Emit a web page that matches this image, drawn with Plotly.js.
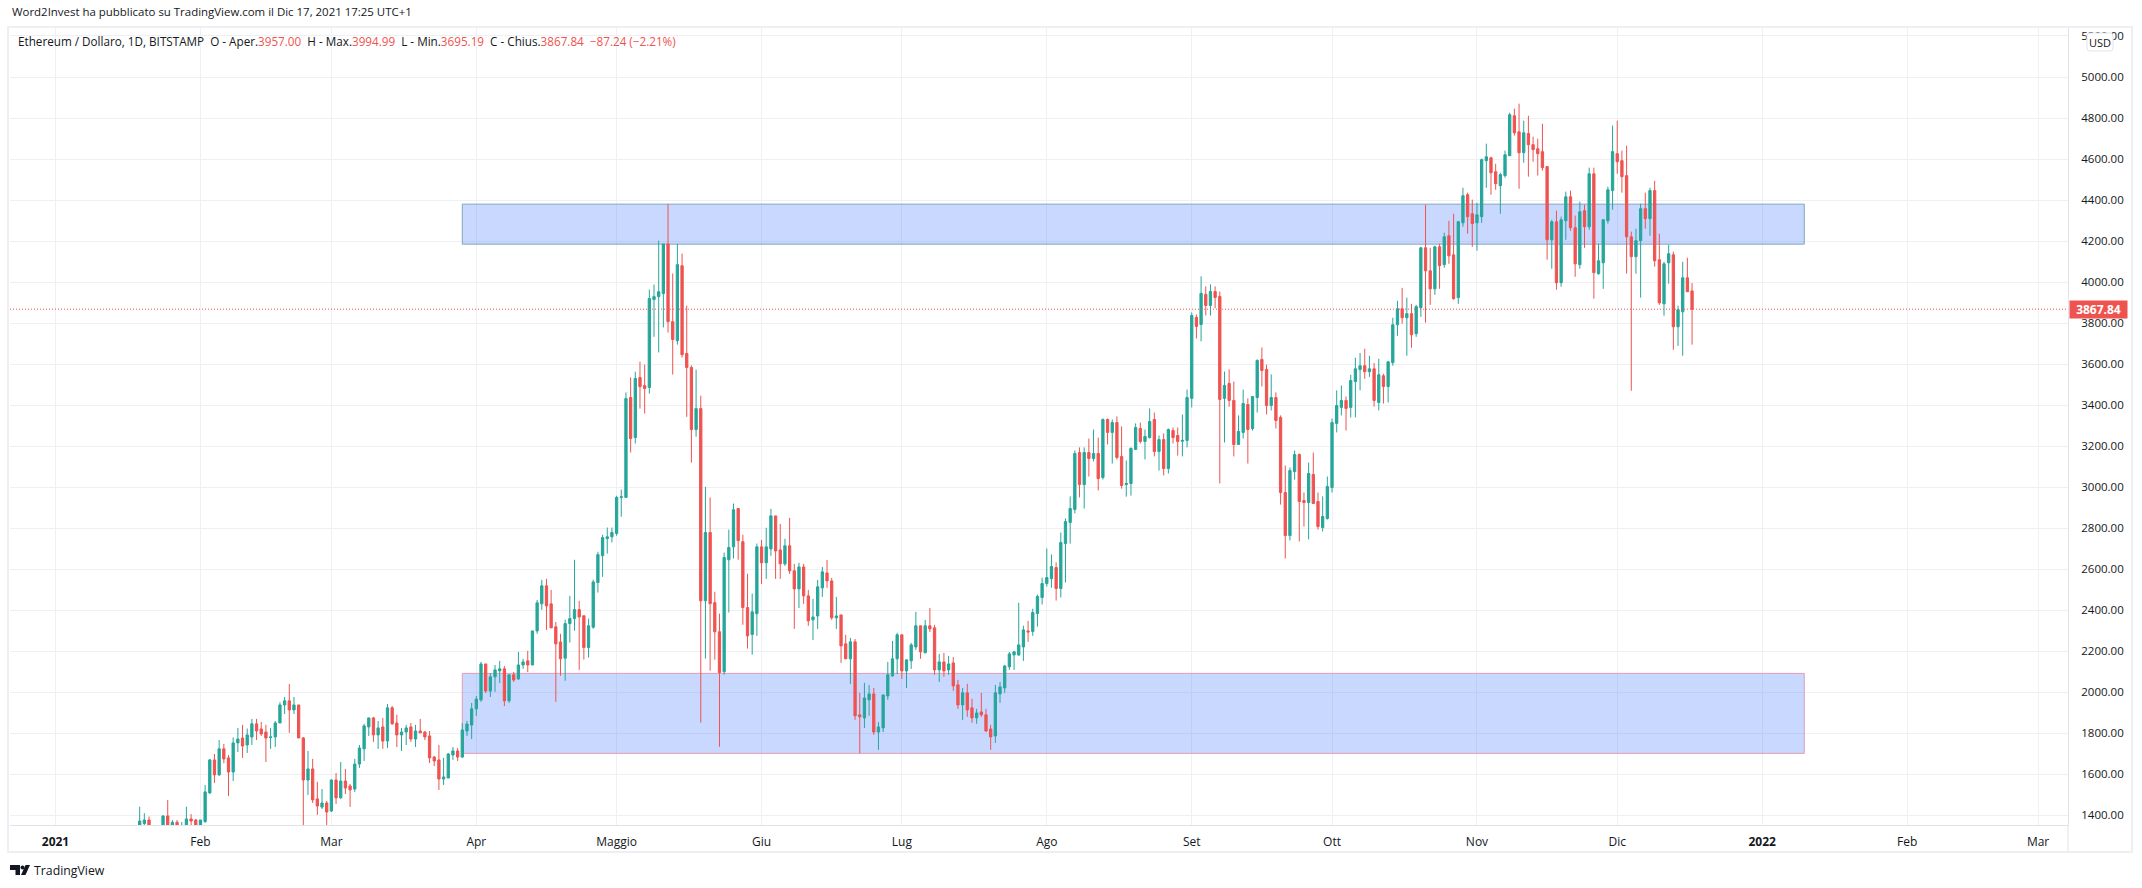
<!DOCTYPE html>
<html><head><meta charset="utf-8">
<script src="https://cdn.plot.ly/plotly-3.0.1.min.js"></script>
<style>html,body{margin:0;padding:0;background:#fff}#c{width:2142px;height:888px}</style>
</head><body><div id="c"></div>
<script>
const firstDay = "2021-01-19";
const opens = [
1257,1360,1377,1120,1230,1235,1397,1325,1366,1250,
1330,1382,1377,1330,1369,1509,1670,1597,1724,1680,
1611,1753,1777,1743,1782,1846,1821,1806,1779,1782,
1850,1938,1958,1914,1938,1777,1572,1626,1480,1440,
1460,1421,1572,1485,1567,1543,1528,1650,1724,1831,
1875,1792,1831,1762,1924,1850,1792,1806,1831,1772,
1811,1806,1787,1684,1670,1577,1582,1694,1714,1684,
1811,1840,1919,1963,2138,2006,2075,2104,2114,1958,
2085,2065,2133,2153,2133,2299,2431,2519,2431,2319,
2245,2166,2335,2359,2403,2373,2218,2317,2535,2666,
2749,2758,2774,2950,2950,3437,3242,3535,3495,3486,
3915,3929,3944,4186,3807,3714,4080,3652,3584,3281,
3383,2446,2779,2437,2295,2100,2646,2709,2896,2734,
2413,2281,2383,2709,2631,2699,2860,2694,2626,2714,
2592,2504,2611,2470,2353,2372,2509,2582,2543,2363,
2377,2236,2163,2246,1890,1875,1963,1992,1806,1826,
1982,2080,2163,2280,2104,2153,2221,2324,2192,2324,
2314,2109,2148,2109,2143,2036,1938,1997,1924,1875,
1904,1890,1821,1787,1992,2021,2124,2182,2182,2221,
2299,2296,2384,2462,2530,2554,2608,2506,2725,2828,
2891,3169,3013,3169,3140,3164,3047,3330,3267,3315,
3150,3013,3018,3184,3286,3223,3242,3330,3174,3232,
3091,3276,3252,3224,3228,3433,3828,3793,3940,3886,
3954,3930,3433,3506,3423,3208,3267,3403,3286,3437,
3623,3574,3398,3437,3340,2974,2764,3076,3159,2935,
2925,3062,2930,2803,2847,2998,3311,3389,3423,3389,
3515,3574,3592,3563,3577,3413,3543,3491,3607,3792,
3870,3826,3846,3748,3875,4167,4055,3967,4172,4085,
4226,4133,3924,4289,4426,4333,4289,4319,4592,4606,
4538,4470,4519,4616,4811,4733,4631,4724,4670,4650,
4636,4563,4206,4294,3997,4299,4416,4265,4085,4348,
4270,4528,4041,4094,4299,4446,4626,4592,4519,4221,
4124,4202,4358,4309,4446,4109,3894,4094,4133,3782,
3855,4021,3957];
const highs = [
1442,1410,1394,1340,1300,1400,1475,1377,1377,1367,
1442,1406,1382,1377,1548,1675,1699,1767,1748,1694,
1780,1826,1841,1823,1870,1870,1855,1841,1826,1860,
1951,1977,2040,1977,1938,1782,1714,1675,1563,1528,
1470,1575,1606,1660,1626,1553,1675,1743,1846,1875,
1880,1860,1875,1943,1933,1890,1826,1841,1850,1841,
1870,1811,1811,1690,1743,1680,1704,1733,1728,1849,
1860,1948,1982,2148,2138,2093,2133,2153,2128,2085,
2099,2197,2163,2202,2299,2450,2548,2553,2499,2343,
2285,2354,2470,2646,2446,2373,2359,2549,2685,2768,
2803,2803,2958,2988,3462,3535,3563,3612,3598,3963,
3988,4202,4186,4381,4042,4186,4139,3885,3594,3573,
3446,3002,2950,2490,2383,2681,2793,2920,2896,2768,
2578,2481,2725,2743,2802,2894,2860,2821,2748,2850,
2626,2631,2626,2499,2455,2548,2611,2645,2558,2465,
2377,2280,2265,2260,1997,2046,2036,2021,1855,1987,
2148,2250,2290,2280,2158,2241,2392,2324,2353,2411,
2329,2187,2192,2177,2172,2060,2021,2041,1968,1919,
1997,1919,1841,2036,2050,2133,2197,2202,2436,2324,
2348,2407,2476,2559,2701,2672,2633,2779,2847,2955,
3179,3194,3194,3237,3281,3242,3335,3335,3330,3345,
3296,3130,3194,3311,3315,3281,3384,3364,3252,3262,
3286,3291,3291,3354,3476,3852,3842,4028,3979,3989,
3979,3954,3564,3574,3515,3350,3476,3433,3442,3623,
3681,3598,3550,3462,3350,3106,3096,3179,3164,2974,
3120,3169,2974,2955,3052,3335,3472,3496,3442,3548,
3631,3654,3675,3641,3605,3626,3553,3616,3826,3909,
3972,3924,3894,3889,4172,4377,4167,4177,4187,4241,
4299,4333,4299,4460,4436,4402,4387,4602,4675,4611,
4577,4533,4641,4826,4846,4870,4787,4811,4709,4699,
4772,4563,4304,4348,4319,4441,4446,4324,4392,4377,
4558,4558,4187,4304,4465,4763,4787,4641,4665,4246,
4260,4382,4436,4460,4494,4236,4099,4182,4148,3885,
4099,4119,3994.99];
const lows = [
1220,1280,1060,1080,1170,1230,1300,1270,1240,1230,
1310,1340,1300,1310,1364,1505,1558,1593,1654,1494,
1567,1709,1680,1704,1743,1767,1787,1660,1724,1733,
1850,1894,1802,1894,1777,1300,1499,1460,1402,1431,
1345,1416,1455,1480,1504,1441,1514,1631,1665,1787,
1758,1724,1724,1728,1841,1733,1714,1743,1758,1733,
1802,1767,1655,1640,1523,1548,1582,1670,1665,1680,
1787,1772,1885,1953,1997,1977,2002,2045,1933,1948,
2050,2060,2114,2099,2133,2285,2402,2304,2314,1953,
2080,2056,2242,2300,2109,2159,2169,2310,2486,2563,
2676,2730,2763,2856,2950,3169,3213,3383,3359,3456,
3733,3657,3779,3754,3549,3695,3632,3343,3120,3246,
1852,2164,2105,2159,1734,2086,2389,2652,2646,2329,
2213,2183,2275,2528,2553,2665,2553,2553,2616,2577,
2309,2411,2431,2324,2255,2309,2465,2509,2353,2309,
2143,2163,2041,1865,1702,1826,1885,1792,1719,1806,
1963,2075,2089,2065,2021,2114,2207,2163,2192,2294,
2085,2050,2075,2085,2007,1919,1865,1880,1851,1846,
1880,1806,1719,1753,1948,1997,2109,2109,2177,2153,
2246,2275,2320,2428,2515,2510,2447,2462,2535,2725,
2872,2950,2896,3052,3125,2984,3037,3208,3115,3135,
2993,2954,2959,3184,3213,3135,3237,3150,3081,3057,
3067,3213,3154,3150,3194,3389,3725,3711,3837,3837,
3872,3018,3218,3393,3150,3208,3237,3115,3276,3364,
3491,3355,3374,3286,2915,2652,2740,3037,2735,2808,
2745,2920,2793,2784,2842,2974,3267,3350,3276,3340,
3340,3472,3528,3538,3393,3374,3408,3413,3592,3738,
3797,3641,3680,3733,3831,3802,3889,3938,3967,4070,
4089,3914,3894,4270,4236,4172,4153,4289,4460,4426,
4450,4333,4509,4616,4714,4455,4582,4514,4587,4519,
4543,4109,4065,3963,3977,4206,4250,4026,4065,4167,
4255,3919,4036,3967,4285,4353,4528,4436,4041,3470,
4041,3924,4260,4226,4075,3889,3836,3992,3670,3689,
3641,3953,3695.19];
const closes = [
1372,1377,1110,1230,1235,1397,1325,1366,1250,1330,
1382,1372,1330,1377,1514,1670,1597,1724,1675,1611,
1753,1772,1738,1792,1846,1811,1797,1777,1782,1850,
1938,1958,1914,1938,1777,1572,1626,1475,1445,1460,
1416,1572,1485,1567,1533,1524,1650,1728,1836,1875,
1792,1826,1762,1924,1846,1792,1806,1826,1772,1811,
1802,1782,1680,1665,1577,1587,1699,1714,1684,1816,
1845,1919,1967,2138,2006,2075,2109,2114,1958,2085,
2060,2133,2148,2133,2299,2436,2519,2421,2314,2236,
2163,2335,2359,2403,2367,2218,2324,2538,2671,2754,
2758,2779,2950,2953,3432,3237,3530,3490,3481,3920,
3929,3953,4186,3807,3720,4085,3646,3584,3281,3383,
2446,2779,2432,2295,2096,2657,2706,2890,2739,2413,
2275,2392,2709,2631,2709,2860,2689,2626,2714,2592,
2504,2611,2470,2348,2367,2514,2587,2543,2363,2372,
2226,2163,2246,1885,1880,1972,1992,1806,1831,1987,
2085,2163,2280,2104,2158,2231,2324,2197,2324,2309,
2109,2148,2104,2138,2031,1938,1997,1914,1875,1899,
1890,1811,1782,1997,2026,2128,2187,2197,2231,2304,
2294,2389,2467,2530,2559,2613,2506,2730,2832,2896,
3164,3013,3169,3140,3164,3042,3330,3267,3315,3145,
3008,3018,3189,3291,3223,3247,3320,3174,3232,3091,
3281,3242,3223,3228,3437,3837,3784,3945,3886,3954,
3925,3428,3496,3423,3208,3272,3408,3281,3442,3618,
3569,3398,3437,3325,2974,2764,3081,3159,2930,2925,
3067,2920,2808,2857,3003,3315,3398,3423,3384,3520,
3577,3592,3563,3577,3423,3548,3491,3611,3792,3870,
3826,3846,3743,3880,4167,4055,3967,4172,4080,4221,
4128,3919,4294,4421,4319,4285,4328,4597,4611,4533,
4480,4524,4621,4816,4728,4631,4728,4670,4646,4626,
4558,4206,4294,3997,4304,4416,4265,4089,4343,4270,
4528,4046,4104,4304,4450,4636,4587,4514,4221,4124,
4202,4358,4309,4446,4104,3899,4089,4138,3782,3865,
4021,3953,3867.84];

const monthTicks = ["2021-01-01","2021-02-01","2021-03-01","2021-04-01","2021-05-01","2021-06-01","2021-07-01","2021-08-01","2021-09-01","2021-10-01","2021-11-01","2021-12-01","2022-01-01","2022-02-01","2022-03-01"];
const monthLabels = ["<b>2021</b>","Feb","Mar","Apr","Maggio","Giu","Lug","Ago","Set","Ott","Nov","Dic","<b>2022</b>","Feb","Mar"];
const priceTicks = [1400,1600,1800,2000,2200,2400,2600,2800,3000,3200,3400,3600,3800,4000,4200,4400,4600,4800,5000,5200];
const zoneTop = {x0:"2021-03-29", x1:"2022-01-10", y0:4185, y1:4380};
const zoneBottom = {x0:"2021-03-29", x1:"2022-01-10", y0:1702, y1:2092};
const lastPrice = 3867.84;
const publishedText = "Word2Invest ha pubblicato su TradingView.com il Dic 17, 2021 17:25 UTC+1";
const symbolText = "Ethereum / Dollaro, 1D, BITSTAMP";

const GREEN="#26a69a", RED="#ef5350", INK="#131722", GRID="#eff0f3", FRAME="#eeeff4", AXIS="#e0e3eb";
const W=2142,H=888,L=10,R=74,T=27,B=63;
const px=x=>(x-L)/(W-L-R), py=y=>1-(y-T)/(H-T-B);
const base=Date.parse(firstDay+"T00:00:00Z");
const dates=closes.map((_,i)=>new Date(base+i*864e5).toISOString().slice(0,10));
const FONT='"Open Sans","Liberation Sans",sans-serif';

const val=s=>`<span style="color:${RED}">${s}</span>`;
const legendText=`${symbolText}  O - Aper.${val("3957.00")}  H - Max.${val("3994.99")}  L - Min.${val("3695.19")}  C - Chius.${val("3867.84")}  ${val("−87.24 (−2.21%)")}`;

const pathPx=pts=>"M"+pts.map(p=>px(p[0])+","+py(p[1])).join("L")+"Z";
const roundedPx=(x0,y0,x1,y1,r)=>`M${px(x0+r)},${py(y0)}L${px(x1-r)},${py(y0)}Q${px(x1)},${py(y0)} ${px(x1)},${py(y0+r)}L${px(x1)},${py(y1-r)}Q${px(x1)},${py(y1)} ${px(x1-r)},${py(y1)}L${px(x0+r)},${py(y1)}Q${px(x0)},${py(y1)} ${px(x0)},${py(y1-r)}L${px(x0)},${py(y0+r)}Q${px(x0)},${py(y0)} ${px(x0+r)},${py(y0)}Z`;
const paperRect=(x0,y0,x1,y1,extra)=>Object.assign({type:"rect",xref:"paper",yref:"paper",x0:px(x0),x1:px(x1),y0:py(y0),y1:py(y1)},extra);

const trace={type:"candlestick",x:dates,open:opens,high:highs,low:lows,close:closes,
 increasing:{line:{color:GREEN,width:1},fillcolor:GREEN},
 decreasing:{line:{color:RED,width:1},fillcolor:RED},
 whiskerwidth:0,width:864e5*0.45,hoverinfo:"skip",showlegend:false};

const layout={width:W,height:H,margin:{l:L,r:R,t:T,b:B,pad:0},paper_bgcolor:"#fff",plot_bgcolor:"#fff",
 font:{family:FONT,size:12,color:INK},showlegend:false,dragmode:false,
 xaxis:{type:"date",range:["2020-12-22 06:29","2022-03-07 09:36"],rangeslider:{visible:false},
  tickmode:"array",tickvals:monthTicks,ticktext:monthLabels,showgrid:true,gridcolor:GRID,gridwidth:1,
  showline:true,linecolor:AXIS,linewidth:1,ticks:"outside",ticklen:6,tickcolor:"#fff",zeroline:false,
  tickfont:{family:FONT,size:12,color:INK}},
 yaxis:{side:"right",range:[1352.7,5243.8],tickmode:"array",tickvals:priceTicks,tickformat:".2f",
  showgrid:true,gridcolor:GRID,gridwidth:1,showline:true,linecolor:AXIS,linewidth:1,ticks:"outside",ticklen:10,tickcolor:"#fff",
  zeroline:false,tickfont:{family:FONT,size:11.5,color:INK}},
 shapes:[
  Object.assign({type:"rect",layer:"between",fillcolor:"rgba(41,98,255,0.25)",line:{color:"#7ea6bf",width:1}},{xref:"x",yref:"y"},zoneTop),
  Object.assign({type:"rect",layer:"between",fillcolor:"rgba(41,98,255,0.25)",line:{color:"#e49bb2",width:1}},{xref:"x",yref:"y"},zoneBottom),
  {type:"line",xref:"paper",yref:"y",x0:0,x1:1,y0:lastPrice,y1:lastPrice,line:{color:RED,width:1,dash:"1px,2px"}},
  paperRect(8,27,2132,852,{line:{color:FRAME,width:2},fillcolor:"rgba(0,0,0,0)"}),
  {type:"line",xref:"paper",yref:"paper",x0:1,x1:1,y0:py(825),y1:py(852),line:{color:AXIS,width:1}},
  {type:"path",xref:"paper",yref:"paper",path:roundedPx(2087,33,2113,51,3),fillcolor:"#fff",line:{color:AXIS,width:1}},
  {type:"path",xref:"paper",yref:"paper",path:pathPx([[10,865],[20,865],[20,875],[15.5,875],[15.5,870],[10,870]]),fillcolor:INK,line:{width:0}},
  {type:"circle",xref:"paper",yref:"paper",x0:px(20.5),x1:px(24.5),y0:py(869.5),y1:py(865.5),fillcolor:INK,line:{width:0}},
  {type:"path",xref:"paper",yref:"paper",path:pathPx([[25.5,865],[30,865],[25.5,875],[21,875]]),fillcolor:INK,line:{width:0}}
 ],
 annotations:[
  {xref:"paper",yref:"paper",x:px(10),y:py(11),xanchor:"left",yanchor:"middle",showarrow:false,text:publishedText,font:{family:FONT,size:11.45,color:INK}},
  {xref:"paper",yref:"paper",x:px(16),y:py(41),xanchor:"left",yanchor:"middle",showarrow:false,text:legendText,font:{family:FONT,size:11.7,color:INK}},
  {xref:"paper",yref:"y",x:px(2068.5),y:lastPrice,xanchor:"left",yanchor:"middle",showarrow:false,text:"<b>3867.84</b>",
   font:{family:FONT,size:12,color:"#fff"},bgcolor:RED,borderpad:1,width:55,height:15,align:"center"},
  {xref:"paper",yref:"paper",x:px(2100),y:py(42),xanchor:"center",yanchor:"middle",showarrow:false,text:"USD",
   font:{family:FONT,size:11,color:INK}},
  {xref:"paper",yref:"paper",x:px(32),y:py(870),xanchor:"left",yanchor:"middle",showarrow:false,text:"TradingView",font:{family:FONT,size:12.3,color:INK}}
 ]};
Plotly.newPlot("c",[trace],layout,{displayModeBar:false,staticPlot:true});
</script></body></html>
